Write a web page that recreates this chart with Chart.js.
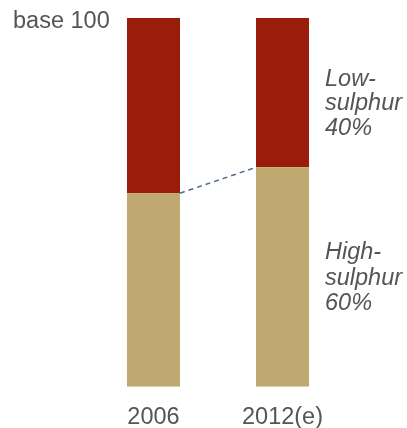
<!DOCTYPE html>
<html>
<head>
<meta charset="utf-8">
<script src="https://cdn.jsdelivr.net/npm/chart.js@4"></script>
<style>
  html, body { margin: 0; padding: 0; background: #fff; }
  #wrap { width: 407px; height: 428px; position: relative; }
</style>
</head>
<body>
<div id="wrap"><canvas id="chart"></canvas></div>
<script>
// data (share of total, base 100)
const categories = ["2006", "2012(e)"];
const highSulphur = [52.5, 59.5];
const lowSulphur = [47.5, 40.5];
const seriesLabels = {
  low: ["Low-", "sulphur", "40%"],
  high: ["High-", "sulphur", "60%"],
};
const baseLabel = "base 100";

const TEXT = "#555555";
const FONT = "Liberation Sans, Arial, sans-serif";

// dashed connector + side labels + "base 100"
const annotate = {
  id: "annotate",
  afterDatasetsDraw(chart) {
    const { ctx, scales: { x, y } } = chart;
    const m0 = chart.getDatasetMeta(0);
    const b1 = m0.data[0], b2 = m0.data[1];

    ctx.save();
    ctx.strokeStyle = "#4a6b94";
    ctx.lineWidth = 1.5;
    ctx.setLineDash([5, 4]);
    ctx.beginPath();
    ctx.moveTo(b1.x + b1.width / 2, y.getPixelForValue(highSulphur[0]));
    ctx.lineTo(b2.x - b2.width / 2, y.getPixelForValue(highSulphur[1]));
    ctx.stroke();
    ctx.setLineDash([]);

    ctx.fillStyle = TEXT;
    ctx.font = "italic 23.5px " + FONT;
    ctx.textAlign = "left";
    ctx.textBaseline = "middle";
    const lx = b2.x + b2.width / 2 + 16;
    const lowMid = y.getPixelForValue(highSulphur[1] + lowSulphur[1] / 2) + 11;
    const highMid = y.getPixelForValue(highSulphur[1] / 2) + 1;
    seriesLabels.low.forEach((t, i) => ctx.fillText(t, lx, lowMid + (i - 1) * 24.5));
    seriesLabels.high.forEach((t, i) => ctx.fillText(t, lx, highMid + (i - 1) * 25.5));

    ctx.font = "23.5px " + FONT;
    ctx.fillText(baseLabel, 13, y.getPixelForValue(100) + 4);
    ctx.restore();
  },
};

new Chart(document.getElementById("chart"), {
  type: "bar",
  data: {
    labels: categories,
    datasets: [
      { label: "High-sulphur", data: highSulphur, backgroundColor: "#c0a970" },
      { label: "Low-sulphur", data: lowSulphur, backgroundColor: "#9a1d0b" },
    ],
  },
  options: {
    responsive: true,
    maintainAspectRatio: false,
    animation: false,
    datasets: { bar: { categoryPercentage: 1, barPercentage: 0.411, borderWidth: 0 } },
    layout: { padding: { left: 89, right: 60, top: 18, bottom: -21 } },
    plugins: { legend: { display: false }, tooltip: { enabled: false } },
    scales: {
      x: {
        stacked: true,
        grid: { display: false, drawTicks: false },
        border: { display: false },
        ticks: { color: TEXT, padding: 17, font: { family: FONT, size: 23.5 } },
      },
      y: { stacked: true, display: false, min: 0, max: 100 },
    },
  },
  plugins: [annotate],
});
</script>
</body>
</html>
